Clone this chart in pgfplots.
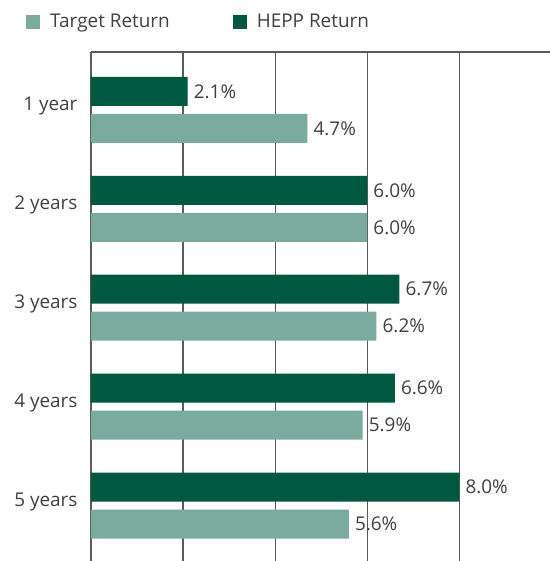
\documentclass[border=0pt]{standalone}
\usepackage{pgfplots}
\pgfplotsset{compat=1.18}
\usepackage{fontspec}
\setmainfont{Open Sans}
\setsansfont{Open Sans}
\definecolor{dkgreen}{RGB}{0,88,64}
\definecolor{ltgreen}{RGB}{123,171,158}
\definecolor{txt}{RGB}{64,64,64}
\definecolor{gridc}{RGB}{90,90,90}
\begin{document}
\begin{tikzpicture}
\begin{axis}[
  scale only axis,
  width=459bp, height=509bp,
  xbar, bar width=29bp,
  y dir=reverse,
  xmin=0, xmax=9.97,
  ymin=0.415, ymax=5.56,
  xtick={0,2,4,6,8}, xticklabels={},
  xmajorgrids,
  grid style={gridc, line width=1.2bp},
  ytick={1,2,3,4,5},
  yticklabels={1 year,2 years,3 years,4 years,5 years},
  yticklabel style={font=\fontsize{19}{22}\selectfont, text=txt, xshift=-10bp, yshift=4bp},
  major tick length=0pt,
  axis line style={draw=none},
  clip=false,
  /pgf/number format/assume math mode=true,
  nodes near coords={\pgfmathprintnumber[fixed,fixed zerofill,precision=1,assume math mode=true]{\pgfplotspointmeta}\%},
  nodes near coords style={font=\fontsize{19}{22}\selectfont, text=txt, inner xsep=6bp},
  every node near coord/.append style={anchor=west},
  reverse legend,
  legend columns=2,
  legend style={draw=none, fill=none, at={(axis description cs:-0.148,1.082)}, anchor=north west,
    font=\fontsize{19}{22}\selectfont, text=txt,
    /tikz/every odd column/.append style={column sep=8bp},
    /tikz/every even column/.append style={column sep=61bp}},
  legend image code/.code={\fill[#1] (0bp,-7bp) rectangle (14bp,7bp);},
]
\addplot[draw=none, fill=dkgreen, bar shift=18.5bp] coordinates {(2.1,1) (6.0,2) (6.7,3) (6.6,4) (8.0,5)};
\addlegendentry{HEPP Return}
\addplot[draw=none, fill=ltgreen, bar shift=-18.5bp] coordinates {(4.7,1) (6.0,2) (6.2,3) (5.9,4) (5.6,5)};
\addlegendentry{Target Return}
\draw[gridc, line width=1.2bp] (axis description cs:0,1) -- (axis description cs:1,1);
\end{axis}
\pgfresetboundingbox
\path[use as bounding box] (-91bp,0) rectangle (459bp,561bp);
\end{tikzpicture}
\end{document}
